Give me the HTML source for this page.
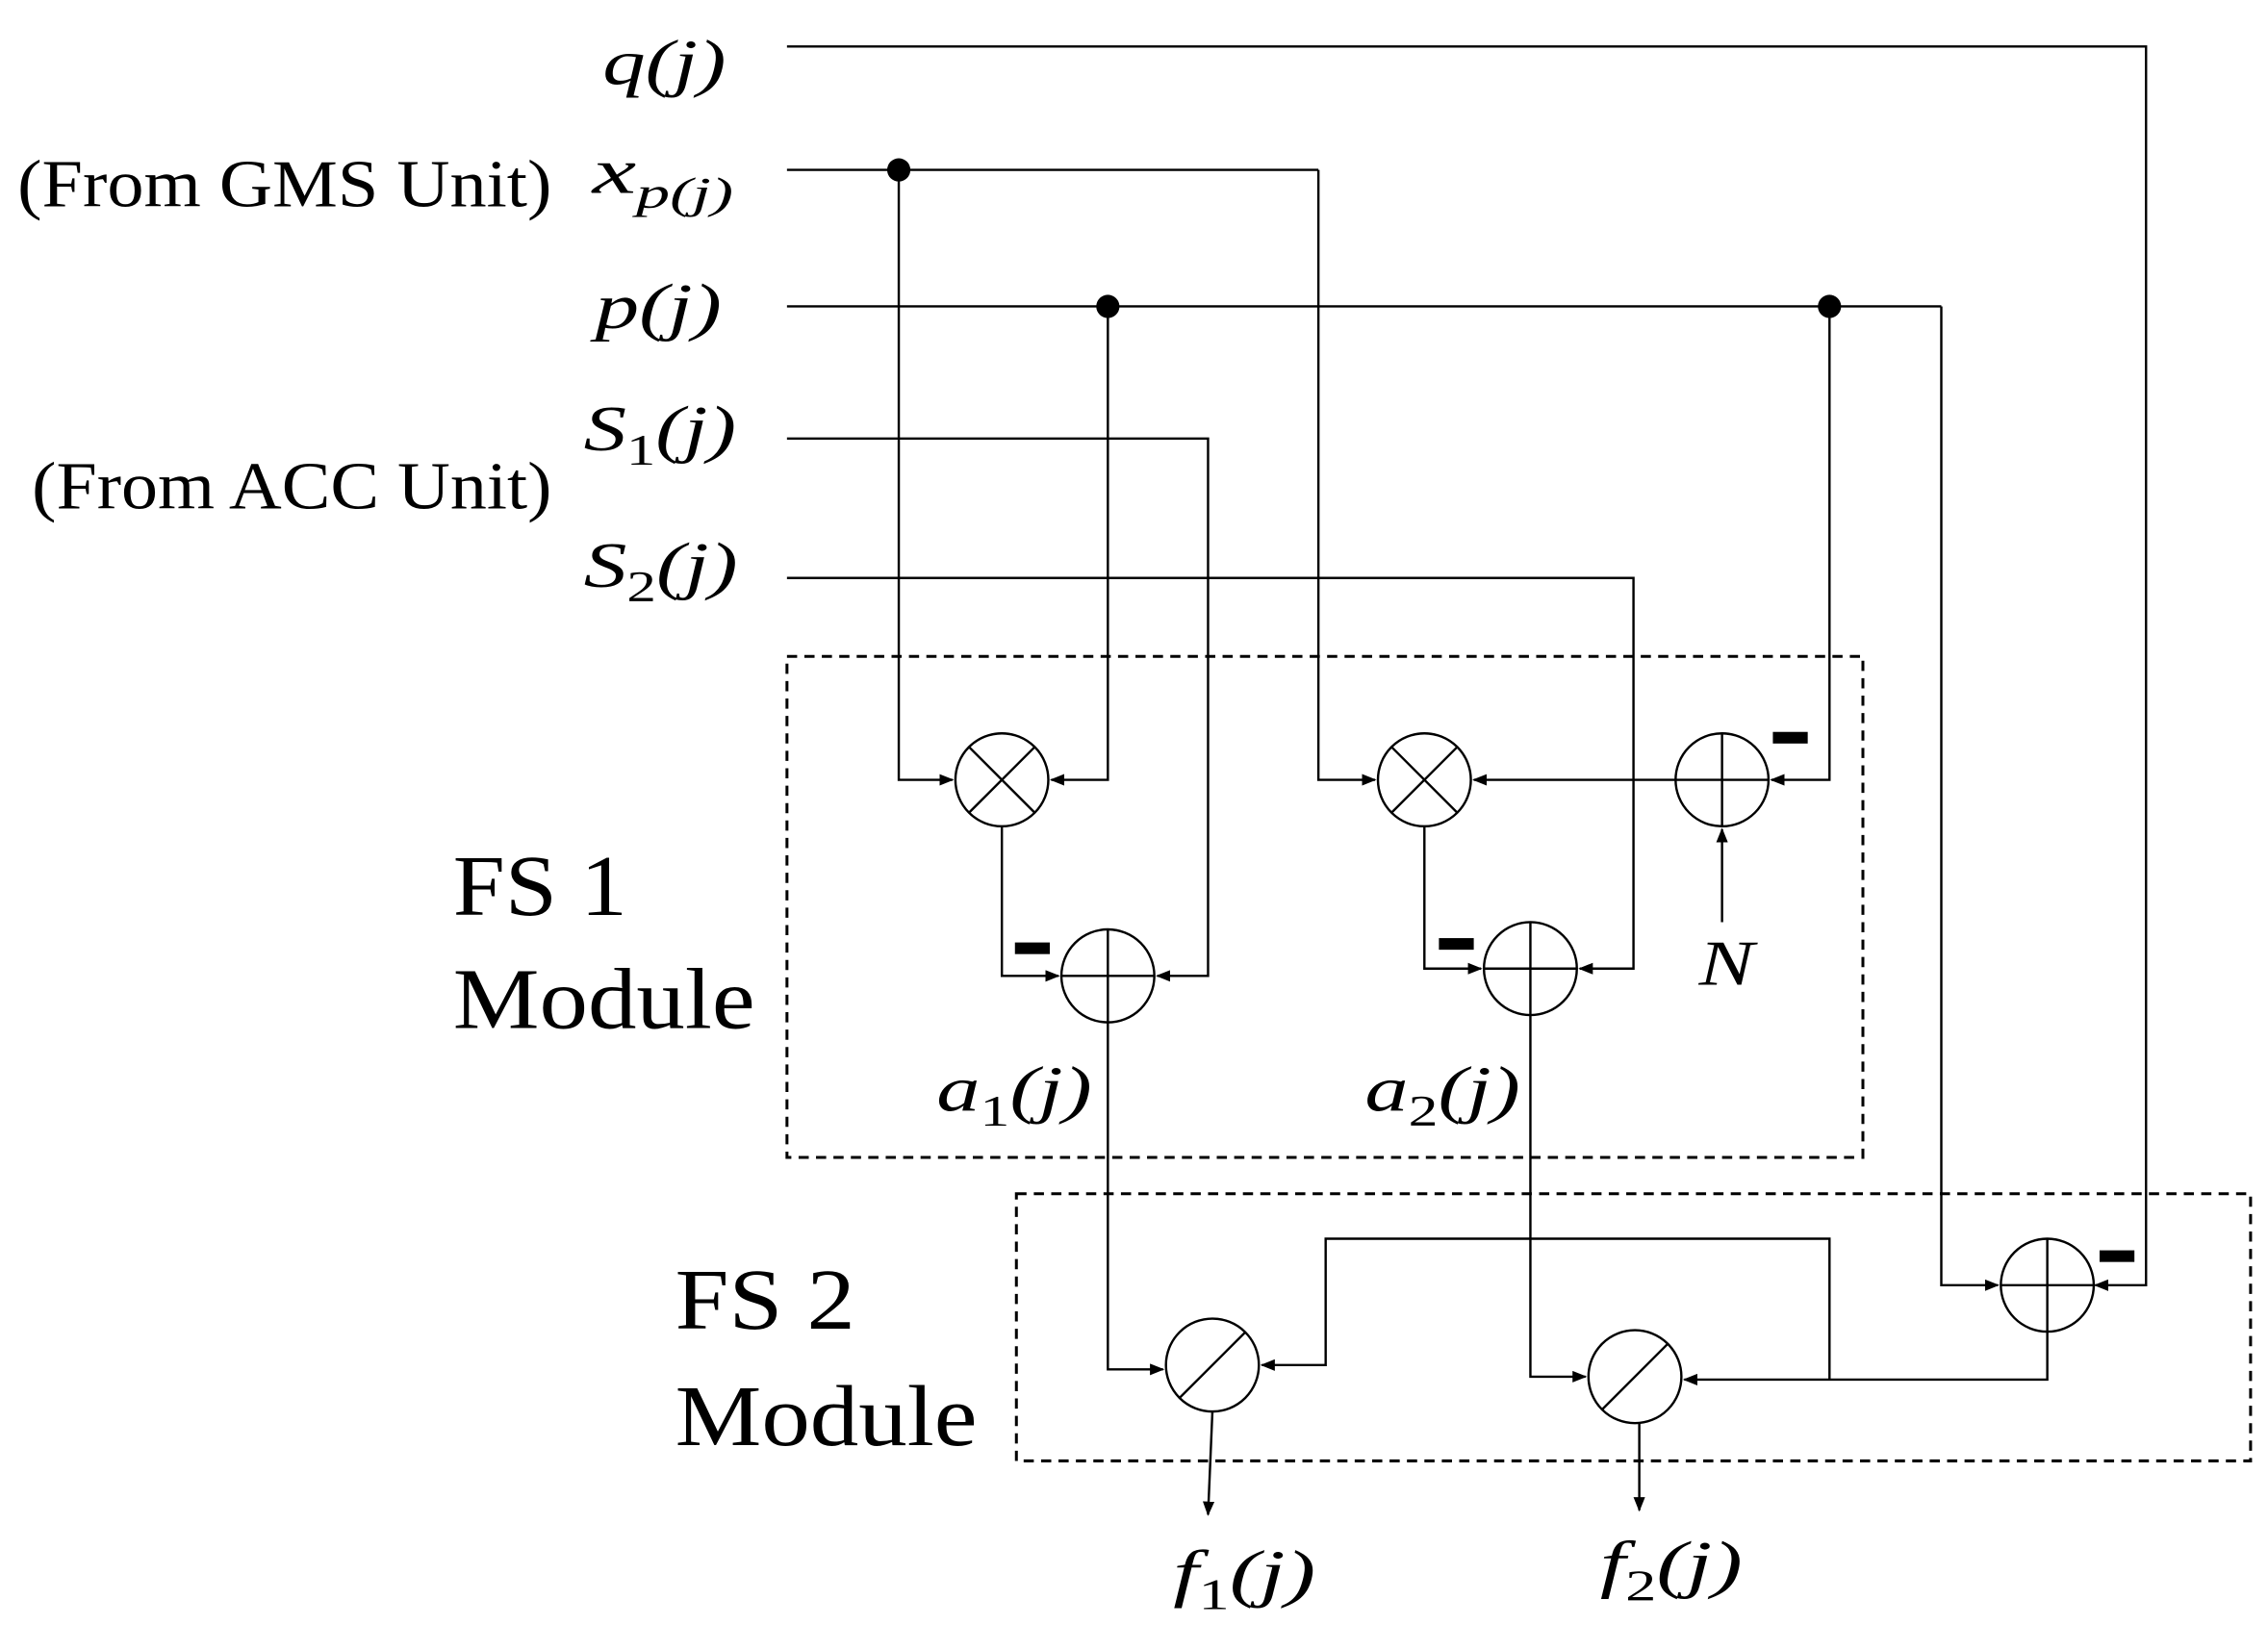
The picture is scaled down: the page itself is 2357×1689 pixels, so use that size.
<!DOCTYPE html>
<html><head><meta charset="utf-8"><style>
html,body{margin:0;padding:0;background:#fff;}
svg{display:block;}
text{font-family:"Liberation Serif",serif;fill:#000;}
.m{font-style:italic;font-size:44px;}
</style></head><body>
<svg width="2357" height="1689" viewBox="0 0 1562 1119" preserveAspectRatio="none" xmlns="http://www.w3.org/2000/svg">
<defs>
<marker id="a" markerWidth="10" markerHeight="8" refX="9" refY="4" orient="auto" markerUnits="userSpaceOnUse"><path d="M0,0 L10,4 L0,8 z" fill="#000"/></marker>
</defs>
<g fill="none" stroke="#000" stroke-width="1.6">
<polyline points="542,32 1478,32 1478,885 1443,885" marker-end="url(#a)"/>
<polyline points="542,117 908,117"/>
<polyline points="619,117 619,537 656,537" marker-end="url(#a)"/>
<polyline points="908,117 908,537 947,537" marker-end="url(#a)"/>
<polyline points="542,211 1337,211"/>
<polyline points="763,211 763,537 724,537" marker-end="url(#a)"/>
<polyline points="1260,211 1260,537 1220,537" marker-end="url(#a)"/>
<polyline points="1337,211 1337,885 1376,885" marker-end="url(#a)"/>
<polyline points="542,302 832,302 832,672 797,672" marker-end="url(#a)"/>
<polyline points="542,398 1125,398 1125,667 1088,667" marker-end="url(#a)"/>
<polyline points="1154,537 1015,537" marker-end="url(#a)"/>
<polyline points="1186,635 1186,571" marker-end="url(#a)"/>
<polyline points="690,569 690,672 729,672" marker-end="url(#a)"/>
<polyline points="981,569 981,667 1020,667" marker-end="url(#a)"/>
<polyline points="763,704 763,943 801,943" marker-end="url(#a)"/>
<polyline points="1054,699 1054,948 1092,948" marker-end="url(#a)"/>
<polyline points="1410,917 1410,950 1160,950" marker-end="url(#a)"/>
<polyline points="1260,950 1260,853 913,853 913,940 869,940" marker-end="url(#a)"/>
<polyline points="835,972 832,1043" marker-end="url(#a)"/>
<polyline points="1129,980 1129,1040" marker-end="url(#a)"/>
<circle cx="690" cy="537" r="32"/>
<path d="M667,514 L713,560 M713,514 L667,560"/>
<circle cx="981" cy="537" r="32"/>
<path d="M958,514 L1004,560 M1004,514 L958,560"/>
<circle cx="1186" cy="537" r="32"/>
<path d="M1154,537 H1218 M1186,505 V569"/>
<circle cx="763" cy="672" r="32"/>
<path d="M731,672 H795 M763,640 V704"/>
<circle cx="1054" cy="667" r="32"/>
<path d="M1022,667 H1086 M1054,635 V699"/>
<circle cx="1410" cy="885" r="32"/>
<path d="M1378,885 H1442 M1410,853 V917"/>
<circle cx="835" cy="940" r="32"/>
<path d="M812,963 L858,917"/>
<circle cx="1126" cy="948" r="32"/>
<path d="M1103,971 L1149,925"/>
<rect x="542" y="452" width="741" height="345" stroke-dasharray="7,5" stroke-width="2"/>
<rect x="700" y="822" width="850" height="184" stroke-dasharray="7,5" stroke-width="2"/>
</g>
<circle cx="619" cy="117" r="8"/><circle cx="763" cy="211" r="8"/><circle cx="1260" cy="211" r="8"/>
<rect x="1221" y="504" width="24" height="8"/>
<rect x="699" y="649" width="24" height="8"/>
<rect x="991" y="646" width="24" height="8"/>
<rect x="1446" y="861" width="24" height="8"/>
<text class="m" x="415" y="58" textLength="85" lengthAdjust="spacingAndGlyphs">q(j)</text>
<text class="m" x="408" y="133" textLength="97" lengthAdjust="spacingAndGlyphs">x<tspan font-size="30" dy="10">p(j)</tspan></text>
<text class="m" x="410" y="226" textLength="87" lengthAdjust="spacingAndGlyphs">p(j)</text>
<text class="m" x="402" y="310" textLength="105" lengthAdjust="spacingAndGlyphs">S<tspan font-size="30" dy="10" font-style="normal">1</tspan><tspan dy="-10">(j)</tspan></text>
<text class="m" x="402" y="404" textLength="106" lengthAdjust="spacingAndGlyphs">S<tspan font-size="30" dy="10" font-style="normal">2</tspan><tspan dy="-10">(j)</tspan></text>
<text x="12" y="142" font-size="46" textLength="368" lengthAdjust="spacingAndGlyphs">(From GMS Unit)</text>
<text x="22" y="350" font-size="46" textLength="358" lengthAdjust="spacingAndGlyphs">(From ACC Unit)</text>
<text x="312" y="630" font-size="60" textLength="120" lengthAdjust="spacingAndGlyphs">FS 1</text>
<text x="312" y="708" font-size="60" textLength="208" lengthAdjust="spacingAndGlyphs">Module</text>
<text x="465" y="915" font-size="60" textLength="124" lengthAdjust="spacingAndGlyphs">FS 2</text>
<text x="465" y="995" font-size="60" textLength="208" lengthAdjust="spacingAndGlyphs">Module</text>
<text class="m" x="645" y="765" textLength="107" lengthAdjust="spacingAndGlyphs">a<tspan font-size="30" dy="10" font-style="normal">1</tspan><tspan dy="-10">(j)</tspan></text>
<text class="m" x="940" y="765" textLength="107" lengthAdjust="spacingAndGlyphs">a<tspan font-size="30" dy="10" font-style="normal">2</tspan><tspan dy="-10">(j)</tspan></text>
<text class="m" x="1170" y="678" textLength="38" lengthAdjust="spacingAndGlyphs">N</text>
<text class="m" x="808" y="1098" textLength="98" lengthAdjust="spacingAndGlyphs">f<tspan font-size="30" dy="10" font-style="normal">1</tspan><tspan dy="-10">(j)</tspan></text>
<text class="m" x="1102" y="1092" textLength="98" lengthAdjust="spacingAndGlyphs">f<tspan font-size="30" dy="10" font-style="normal">2</tspan><tspan dy="-10">(j)</tspan></text>
</svg>
</body></html>
